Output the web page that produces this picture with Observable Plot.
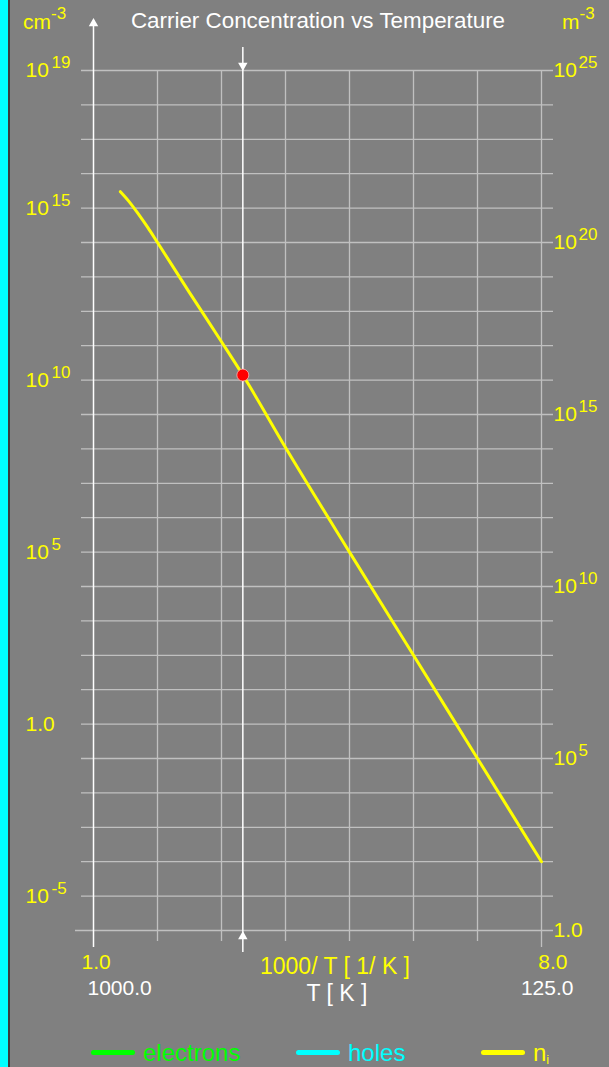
<!DOCTYPE html>
<html>
<head>
<meta charset="utf-8">
<script src="https://cdn.jsdelivr.net/npm/d3@7"></script>
<script src="https://cdn.jsdelivr.net/npm/@observablehq/plot@0.6"></script>
<style>
  html, body { margin: 0; padding: 0; background: #808080; }
  #wrap { position: relative; width: 609px; height: 1067px; background: #808080; overflow: hidden;
          font-family: "Liberation Sans", Arial, sans-serif; }
  .abs { position: absolute; white-space: nowrap; line-height: 1; }
  #stripe { position: absolute; left: 0; top: 0; width: 8px; height: 1067px; background: #00ffff; }
  #stripe2 { position: absolute; left: 8px; top: 0; width: 2px; height: 1067px; background: #3c3c3c; }
  #plot { position: absolute; left: 0; top: 0; }
  .leg-line { position: absolute; height: 5px; border-radius: 3px; }
</style>
</head>
<body>
<div id="wrap">
  <div id="stripe"></div><div id="stripe2"></div>
  <div id="plot"></div>
  <div class="abs" style="left:0;width:636px;text-align:center;top:10px;font-size:22.4px;color:#fff;">Carrier Concentration vs Temperature</div>
  <div class="abs" style="left:23px;top:11px;font-size:21px;color:#ffff00;">cm<span style="font-size:17px;position:relative;top:-10px;">-3</span></div>
  <div class="abs" style="left:562px;top:11px;font-size:21px;color:#ffff00;">m<span style="font-size:17px;position:relative;top:-10px;">-3</span></div>
  <div class="abs" style="left:235px;width:200px;text-align:center;top:955px;font-size:23px;color:#ffff00;">1000/ T [ 1/ K ]</div>
  <div class="abs" style="left:237px;width:200px;text-align:center;top:982px;font-size:23px;color:#ffffff;">T [ K ]</div>
  <div id="legend"></div>
</div>
<script>
// ---- data ----
const invT = [1.42, 1.55, 1.70, 1.85, 2.0, 2.5, 3.0, 3.333, 4.0, 5.0, 6.0, 7.0, 8.0];          // 1000/T [1/K]
const niValues = [3.0e15, 1.6e15, 6.8e14, 2.7e14, 1.0e14, 3.5e12, 1.3e11, 1.4e10, 1.1e8, 1.0e5, 1.0e2, 0.1, 1.0e-4]; // cm^-3
const cursorT = [300];
const cursorNi = [1.4e10];
const xGrid = [1, 2, 3, 4, 5, 6, 7, 8];
const xLabelTicks = [1, 8];
const yGrid = [1e19,1e18,1e17,1e16,1e15,1e14,1e13,1e12,1e11,1e10,1e9,1e8,1e7,1e6,1e5,1e4,1e3,1e2,1e1,1,1e-1,1e-2,1e-3,1e-4,1e-5,1e-6];
const leftTicks = [1e19, 1e15, 1e10, 1e5, 1, 1e-5];      // cm^-3
const rightTicks = [1e25, 1e20, 1e15, 1e10, 1e5, 1];     // m^-3
const legendNames = ["electrons", "holes", "n"];
const legendColors = ["#00ff00", "#00ffff", "#ffff00"];

const curve = invT.map((u, i) => ({u, n: niValues[i]}));
const cursor = cursorT.map((T, i) => ({u: 1000 / T, n: cursorNi[i]}));
const font = "Liberation Sans, Arial, sans-serif";
const yellow = "#ffff00";
const grid = "#c0c0c0";
const exp = d => String(Math.round(Math.log10(d)));

const chart = Plot.plot({
  width: 609, height: 1067,
  marginTop: 70, marginBottom: 137, marginLeft: 93, marginRight: 68,
  x: {type: "linear", domain: [1, 8], axis: null},
  y: {type: "log", domain: [1e-6, 1e19], axis: null},
  style: {background: "transparent", overflow: "visible", fontFamily: font},
  marks: [
    // horizontal grid
    Plot.ruleY(yGrid.slice(0, -1), {y: d => d, stroke: grid, strokeWidth: 1.3, insetLeft: -12, insetRight: -12}),
    Plot.ruleY(yGrid.slice(-1), {y: d => d, stroke: grid, strokeWidth: 1.3, insetLeft: -18, insetRight: -12}),
    // vertical grid
    Plot.ruleX(xGrid.slice(1, -1), {x: d => d, stroke: grid, strokeWidth: 1.3, insetBottom: -11}),
    Plot.ruleX(xGrid.slice(-1), {x: d => d, stroke: grid, strokeWidth: 1.3, insetBottom: -17}),
    // left axis line with arrow
    Plot.ruleX(xGrid.slice(0, 1), {x: d => d, stroke: "#ffffff", strokeWidth: 1.5, insetTop: -50, insetBottom: -17}),
    Plot.dot(xGrid.slice(0, 1), {x: d => d, frameAnchor: "top", dy: -47, symbol: "triangle", r: 3.5, fill: "#ffffff", stroke: "none"}),
    // cursor line
    Plot.ruleX(cursor, {x: "u", stroke: "#ffffff", strokeWidth: 1.5, insetTop: -23, insetBottom: -22}),
    Plot.dot(cursor, {x: "u", frameAnchor: "top", dy: -5, symbol: "triangle", rotate: 180, r: 3.5, fill: "#ffffff", stroke: "none"}),
    Plot.dot(cursor, {x: "u", frameAnchor: "bottom", dy: 6, symbol: "triangle", r: 3.5, fill: "#ffffff", stroke: "none"}),
    // ni curve
    Plot.line(curve, {x: "u", y: "n", stroke: yellow, strokeWidth: 3, curve: "monotone-x", strokeLinecap: "round"}),
    Plot.dot(cursor, {x: "u", y: "n", r: 6, fill: "#ff0000", stroke: "#ffb0b0", strokeWidth: 0.8}),
    // left tick labels (cm^-3)
    Plot.text(leftTicks, {y: d => d, text: d => d === 1 ? "1.0" : "10", frameAnchor: "left", textAnchor: "start", dx: -68, fill: yellow, fontSize: 21, fontFamily: font}),
    Plot.text(leftTicks.filter(d => d !== 1), {y: d => d, text: exp, frameAnchor: "left", textAnchor: "start", dx: -42, dy: -8, fill: yellow, fontSize: 17, fontFamily: font}),
    // right tick labels (m^-3)
    Plot.text(rightTicks, {y: d => d * 1e-6, text: d => d === 1 ? "1.0" : "10", frameAnchor: "right", textAnchor: "start", dx: 12, fill: yellow, fontSize: 21, fontFamily: font}),
    Plot.text(rightTicks.filter(d => d !== 1), {y: d => d * 1e-6, text: exp, frameAnchor: "right", textAnchor: "start", dx: 37, dy: -8, fill: yellow, fontSize: 17, fontFamily: font}),
    // bottom tick labels
    Plot.text(xLabelTicks.slice(0, 1), {x: d => d, text: d => d.toFixed(1), frameAnchor: "bottom", dy: 38, textAnchor: "start", dx: -12, fill: yellow, fontSize: 21, fontFamily: font}),
    Plot.text(xLabelTicks.slice(1), {x: d => d, text: d => d.toFixed(1), frameAnchor: "bottom", dy: 38, textAnchor: "end", dx: 26, fill: yellow, fontSize: 21, fontFamily: font}),
    Plot.text(xLabelTicks.slice(0, 1), {x: d => d, text: d => (1000 / d).toFixed(1), frameAnchor: "bottom", dy: 64, textAnchor: "start", dx: -6, fill: "#ffffff", fontSize: 21, fontFamily: font}),
    Plot.text(xLabelTicks.slice(1), {x: d => d, text: d => (1000 / d).toFixed(1), frameAnchor: "bottom", dy: 64, textAnchor: "end", dx: 32, fill: "#ffffff", fontSize: 21, fontFamily: font})
  ]
});
document.getElementById("plot").appendChild(chart);

// legend
const legend = document.getElementById("legend");
const lineX = [91, 296, 481];
legendNames.forEach((name, i) => {
  const ln = document.createElement("div");
  ln.className = "leg-line";
  ln.style.left = lineX[i] + "px";
  ln.style.top = "1050px";
  ln.style.width = "44px";
  ln.style.background = legendColors[i];
  legend.appendChild(ln);
  const tx = document.createElement("div");
  tx.className = "abs";
  tx.style.left = (lineX[i] + 52) + "px";
  tx.style.top = "1041px";
  tx.style.fontSize = "24px";
  tx.style.color = legendColors[i];
  tx.innerHTML = name === "n" ? 'n<span style="font-size:13px;position:relative;top:3px;">i</span>' : name;
  legend.appendChild(tx);
});
</script>
</body>
</html>
